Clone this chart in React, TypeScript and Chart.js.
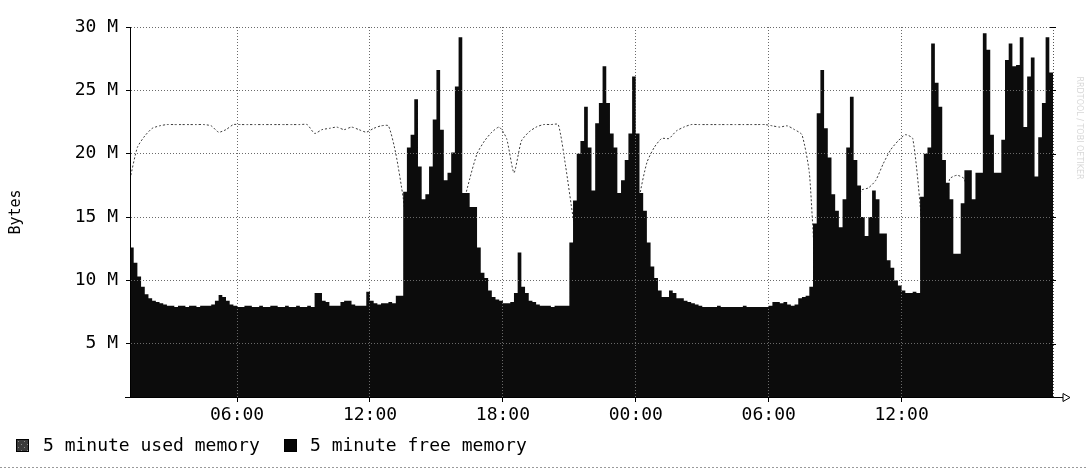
import React, { useEffect, useRef } from 'react';
import { Chart, registerables } from 'chart.js';

Chart.register(...registerables);

// ---- data (values in millions of bytes) ----
const START_HOUR = 1 + 10 / 60; // 01:10 of the first day
const USED_STEP_HOURS = 20 / 60; // used memory: one sample per 20 minutes
const FREE_STEP_HOURS = 10 / 60; // free memory: one sample per 10 minutes

const xTickHours = [6, 12, 18, 24, 30, 36];
const xTickLabels = ['06:00', '12:00', '18:00', '00:00', '06:00', '12:00'];
const yTickValues = [5, 10, 15, 20, 25, 30];
const yTickLabels = ['5 M', '10 M', '15 M', '20 M', '25 M', '30 M'];
const seriesLabels = ['5 minute used memory', '5 minute free memory'];

const usedMemory = [
  18.0, 20.5, 21.4, 22.0, 22.2, 22.3, 22.3, 22.3, 22.3, 22.3,
  22.3, 22.2, 21.7, 21.9, 22.3, 22.3, 22.3, 22.3, 22.3, 22.3,
  22.3, 22.3, 22.3, 22.3, 22.3, 21.6, 21.9, 22.0, 22.1, 21.9,
  22.1, 21.9, 21.7, 22.0, 22.2, 22.2, 20.0, 16.5, 12.0, 14.0,
  11.0, 8.0, 12.0, 10.0, 6.0, 15.5, 18.0, 20.0, 21.0, 21.7,
  22.1, 21.2, 18.5, 21.0, 21.7, 22.1, 22.3, 22.3, 22.3, 19.0,
  15.0, 12.0, 13.0, 9.0, 6.0, 10.0, 13.0, 9.0, 7.0, 16.5,
  19.3, 20.5, 21.2, 21.2, 21.8, 22.1, 22.3, 22.3, 22.3, 22.3,
  22.3, 22.3, 22.3, 22.3, 22.3, 22.3, 22.3, 22.2, 22.1, 22.2,
  21.9, 21.5, 18.5, 10.0, 12.0, 12.0, 12.0, 8.0, 14.0, 17.1,
  17.3, 17.9, 19.2, 20.3, 21.0, 21.5, 21.2, 16.0, 8.0, 10.0,
  14.0, 18.0, 18.3, 18.0, 15.0, 8.0, 12.0, 14.0, 10.0, 7.0,
  6.0, 12.0, 8.0, 15.0, 6.0, 8.0,
];

const freeMemory = [
  12.6, 11.4, 10.3, 9.5, 8.9, 8.6, 8.4, 8.3, 8.2, 8.1,
  8.0, 8.0, 7.9, 8.0, 8.0, 7.9, 8.0, 8.0, 7.9, 8.0,
  8.0, 8.0, 8.1, 8.4, 8.85, 8.7, 8.4, 8.1, 8.0, 7.9,
  7.9, 8.0, 8.0, 7.9, 7.9, 8.0, 7.9, 7.9, 8.0, 8.0,
  7.9, 7.9, 8.0, 7.9, 7.9, 8.0, 7.9, 7.9, 8.0, 7.9,
  9.0, 9.0, 8.4, 8.3, 8.0, 8.0, 8.0, 8.3, 8.4, 8.4,
  8.1, 8.0, 8.0, 8.0, 9.1, 8.4, 8.2, 8.1, 8.2, 8.2,
  8.3, 8.2, 8.8, 8.8, 17.0, 20.5, 21.5, 24.3, 19.0, 16.4,
  16.8, 19.0, 22.7, 26.6, 21.9, 17.9, 18.5, 20.1, 25.3, 29.2,
  16.9, 16.9, 15.8, 15.8, 12.6, 10.6, 10.2, 9.2, 8.7, 8.5,
  8.4, 8.2, 8.2, 8.3, 9.0, 12.2, 9.5, 9.0, 8.4, 8.3,
  8.1, 8.0, 8.0, 8.0, 7.9, 8.0, 8.0, 8.0, 8.0, 13.0,
  16.3, 20.0, 21.0, 23.7, 20.5, 17.1, 22.4, 24.0, 26.9, 24.0,
  21.6, 20.5, 16.9, 17.9, 19.5, 21.6, 26.1, 21.6, 16.9, 15.5,
  13.0, 11.1, 10.2, 9.2, 8.7, 8.7, 9.2, 9.0, 8.6, 8.6,
  8.4, 8.3, 8.2, 8.1, 8.0, 7.9, 7.9, 7.9, 7.9, 8.0,
  7.9, 7.9, 7.9, 7.9, 7.9, 7.9, 8.0, 7.9, 7.9, 7.9,
  7.9, 7.9, 7.9, 8.0, 8.3, 8.3, 8.2, 8.3, 8.1, 8.0,
  8.1, 8.6, 8.7, 8.8, 9.5, 14.5, 23.2, 26.6, 22.0, 19.7,
  16.8, 15.5, 14.2, 16.4, 20.5, 24.5, 19.5, 17.5, 15.0, 13.5,
  15.0, 17.1, 16.4, 13.7, 13.7, 11.6, 11.0, 10.0, 9.6, 9.2,
  9.0, 9.0, 9.1, 9.0, 16.6, 20.0, 20.5, 28.7, 25.6, 23.7,
  19.5, 17.7, 16.4, 12.1, 12.1, 16.1, 18.7, 18.7, 16.4, 18.5,
  18.5, 29.5, 28.2, 21.5, 18.5, 18.5, 21.1, 27.4, 28.7, 26.9,
  27.0, 29.2, 22.1, 26.1, 27.6, 18.2, 21.3, 24.0, 29.2, 26.4,
  26.4,
];

const FONT = '"DejaVu Sans Mono", "Liberation Mono", monospace';

const usedHours = usedMemory.map((_, i) => START_HOUR + i * USED_STEP_HOURS);
const freeHours = freeMemory.map((_, i) => START_HOUR + i * FREE_STEP_HOURS);
const END_HOUR = freeHours[freeHours.length - 1];

const rrdDecorations = {
  id: 'rrdDecorations',
  afterDraw(chart: any) {
    const { ctx, chartArea } = chart;
    const { left, right, top, bottom } = chartArea;
    const yScale = chart.scales.y;
    ctx.save();

    // right-hand dotted border with tick marks
    ctx.strokeStyle = '#555';
    ctx.lineWidth = 1;
    ctx.setLineDash([1, 2]);
    ctx.beginPath();
    ctx.moveTo(Math.round(right) + 0.5, top);
    ctx.lineTo(Math.round(right) + 0.5, bottom);
    ctx.stroke();
    ctx.setLineDash([]);
    ctx.strokeStyle = '#000';
    yTickValues.forEach((v) => {
      const y = Math.round(yScale.getPixelForValue(v)) + 0.5;
      ctx.beginPath();
      ctx.moveTo(right - 3, y);
      ctx.lineTo(right + 3, y);
      ctx.stroke();
    });

    // short stub of the time axis to the left of the plot
    const ay = Math.round(bottom) + 0.5;
    ctx.beginPath();
    ctx.moveTo(left - 5, ay);
    ctx.lineTo(left, ay);
    ctx.stroke();

    // arrow at the end of the time axis
    ctx.beginPath();
    ctx.moveTo(right, ay);
    ctx.lineTo(right + 10, ay);
    ctx.stroke();
    ctx.beginPath();
    ctx.moveTo(right + 10, ay - 4);
    ctx.lineTo(right + 17, ay);
    ctx.lineTo(right + 10, ay + 4);
    ctx.closePath();
    ctx.stroke();

    // faint watermark
    ctx.save();
    ctx.translate(1079, 128);
    ctx.rotate(Math.PI / 2);
    ctx.fillStyle = '#d8d8d8';
    ctx.font = '8px "DejaVu Sans"';
    ctx.textAlign = 'center';
    ctx.textBaseline = 'middle';
    ctx.fillText('RRDTOOL / TOBI OETIKER', 0, 0);
    ctx.restore();

    // legend
    const legendY = 446;
    const items = [
      { x: 16, color: '#3a3a3a', textX: 43 },
      { x: 284, color: '#050505', textX: 310 },
    ];
    ctx.font = '18px ' + FONT;
    ctx.textBaseline = 'middle';
    ctx.textAlign = 'left';
    chart.data.datasets.forEach((ds: any, i: number) => {
      const it = items[i];
      if (!it) return;
      ctx.fillStyle = it.color;
      ctx.fillRect(it.x, legendY - 7, 13, 13);
      ctx.strokeStyle = '#000';
      ctx.strokeRect(it.x + 0.5, legendY - 6.5, 12, 12);
      if (i === 0) {
        ctx.fillStyle = '#8a8a8a';
        for (let dx = 2; dx < 12; dx += 3) {
          for (let dy = 2; dy < 12; dy += 3) {
            if ((dx + dy) % 2 === 0) ctx.fillRect(it.x + dx, legendY - 7 + dy, 1, 1);
          }
        }
      }
      ctx.fillStyle = '#000';
      ctx.fillText(ds.label, it.textX, legendY);
    });

    // dotted rule at the foot of the image
    ctx.strokeStyle = '#9a9a9a';
    ctx.setLineDash([2, 2]);
    ctx.beginPath();
    ctx.moveTo(0, 467.5);
    ctx.lineTo(chart.width, 467.5);
    ctx.stroke();

    ctx.restore();
  },
};

export default function App() {
  const canvasRef = useRef<HTMLCanvasElement | null>(null);

  useEffect(() => {
    const canvas = canvasRef.current;
    if (!canvas) return;
    const chart = new Chart(canvas, {
      type: 'line',
      data: {
        datasets: [
          {
            label: seriesLabels[0],
            data: usedMemory.map((v, i) => ({ x: usedHours[i], y: v })),
            borderColor: '#3c3c3c',
            borderWidth: 1,
            borderDash: [2, 2],
            pointRadius: 0,
            fill: false,
            tension: 0.2,
            order: 1,
          },
          {
            label: seriesLabels[1],
            data: freeMemory.map((v, i) => ({ x: freeHours[i], y: v })),
            borderColor: '#0c0c0c',
            borderWidth: 0,
            backgroundColor: '#0c0c0c',
            pointRadius: 0,
            fill: 'start',
            stepped: true,
            order: 0,
          },
        ],
      },
      options: {
        responsive: false,
        animation: false,
        events: [],
        layout: { padding: { left: 0, right: 33, top: 27, bottom: 42 } },
        plugins: {
          legend: { display: false },
          tooltip: { enabled: false },
        },
        scales: {
          x: {
            type: 'linear',
            min: START_HOUR,
            max: END_HOUR,
            afterBuildTicks: (scale: any) => {
              scale.ticks = xTickHours.map((v) => ({ value: v }));
            },
            afterFit: (scale: any) => {
              scale.height = 30;
            },
            ticks: {
              autoSkip: false,
              maxRotation: 0,
              padding: 3,
              color: '#000',
              font: { family: FONT, size: 18 },
              callback: (value: any) => {
                const idx = xTickHours.indexOf(Number(value));
                return idx >= 0 ? xTickLabels[idx] : '';
              },
            },
            grid: {
              color: '#6a6a6a',
              lineWidth: 1,
              tickLength: 5,
              tickColor: '#000',
              z: 1,
            },
            border: { display: true, color: '#000', width: 1, dash: [1, 2], z: 1 },
          },
          y: {
            type: 'linear',
            min: 0.8,
            max: 30,
            afterBuildTicks: (scale: any) => {
              scale.ticks = yTickValues.map((v) => ({ value: v }));
            },
            afterFit: (scale: any) => {
              scale.width = 130;
            },
            ticks: {
              padding: 8,
              color: '#000',
              font: { family: FONT, size: 18 },
              callback: (value: any) => {
                const idx = yTickValues.indexOf(Number(value));
                return idx >= 0 ? yTickLabels[idx] : '';
              },
            },
            title: {
              display: true,
              text: 'Bytes',
              color: '#000',
              font: { family: FONT, size: 15 },
              padding: { top: 7, bottom: 0 },
            },
            grid: {
              color: '#6a6a6a',
              lineWidth: 1,
              tickLength: 4,
              tickColor: '#000',
              z: 1,
            },
            border: { display: true, color: '#000', width: 1, dash: [1, 2], z: 1 },
          },
        },
      },
      plugins: [rrdDecorations],
    });
    return () => chart.destroy();
  }, []);

  return (
    <div style={{ position: 'absolute', left: 0, top: 0, width: 1086, height: 469, background: '#fff' }}>
      <canvas ref={canvasRef} width={1086} height={469} style={{ display: 'block' }} />
    </div>
  );
}
